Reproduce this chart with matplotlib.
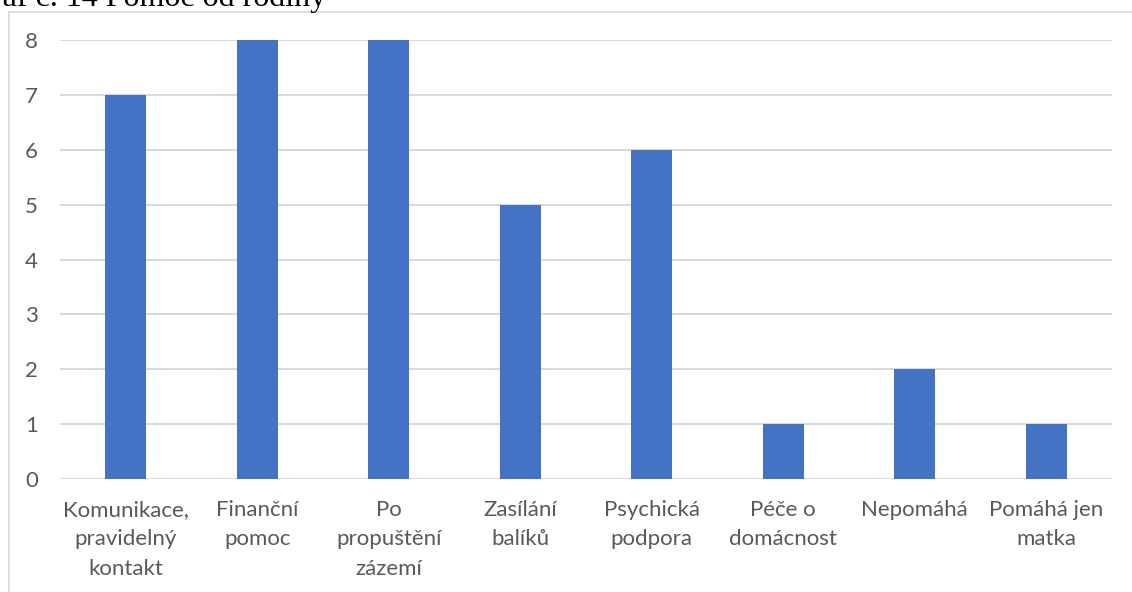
import matplotlib.pyplot as plt
from matplotlib.patches import Rectangle

# data
categories = ["Komunikace,\npravidelný\nkontakt", "Finanční\npomoc", "Po\npropuštění\nzázemí",
              "Zasílání\nbalíků", "Psychická\npodpora", "Péče o\ndomácnost", "Nepomáhá",
              "Pomáhá jen\nmatka"]
values = [7, 8, 8, 5, 6, 1, 2, 1]
y_ticks = [0, 1, 2, 3, 4, 5, 6, 7, 8]

W, H = 1132, 592
fig = plt.figure(figsize=(W / 100, H / 100), dpi=100)
fig.patch.set_facecolor("white")

# chart border (cut off at right/bottom like the screenshot)
fig.patches.append(Rectangle((8.5 / W, -0.1), 1.2, 1.1 - 11.5 / H, transform=fig.transFigure,
                             fill=False, edgecolor="#d9d9d9", linewidth=1.2))

# caption above the chart, partly cut off
fig.text(326 / W, 1 - 6 / H, "Graf č. 14 Pomoc od rodiny", ha="right", va="baseline",
         family="Liberation Serif", fontsize=23, color="black")

ax = fig.add_axes([60 / W, 1 - 479 / H, (1112 - 60) / W, (479 - 40) / H])
x = range(len(categories))
ax.bar(x, values, width=0.31, color="#4472C4", zorder=3)

ax.set_xlim(-0.5, len(categories) - 0.5)
ax.set_ylim(0, 8)
ax.set_yticks(y_ticks)
ax.set_xticks(list(x))
ax.set_xticklabels(categories, linespacing=1.6)

ax.grid(axis="y", color="#d9d9d9", linewidth=1.4, zorder=0)
for s in ax.spines.values():
    s.set_visible(False)
ax.tick_params(axis="both", length=0, labelsize=16, labelcolor="#595959")
ax.tick_params(axis="y", pad=16)
ax.tick_params(axis="x", pad=15)
for lab in ax.get_xticklabels() + ax.get_yticklabels():
    lab.set_family("Lato")

fig.savefig("out.png", dpi=100)
